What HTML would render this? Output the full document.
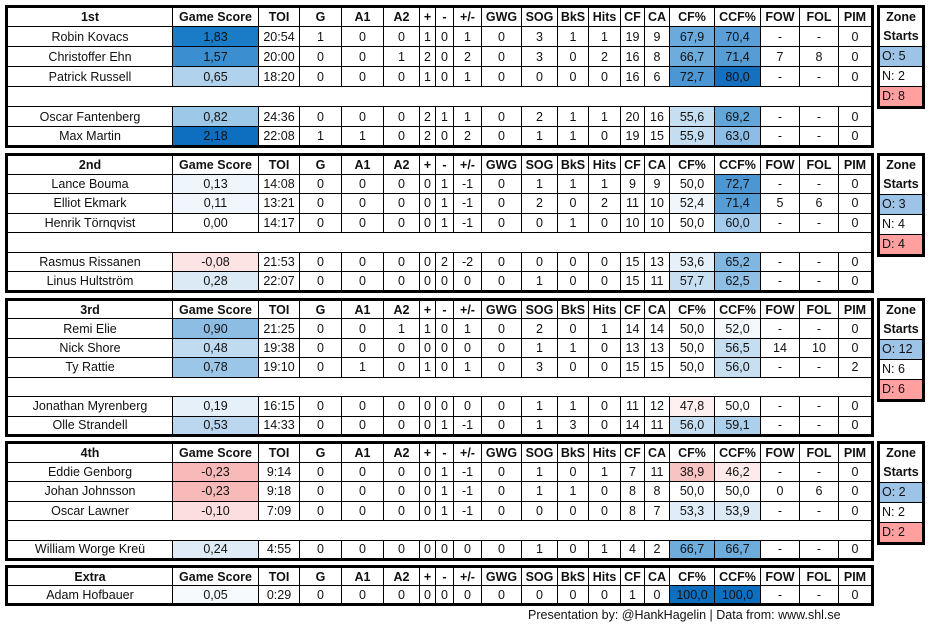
<!DOCTYPE html>
<html><head><meta charset="utf-8">
<style>
body{margin:0;width:929px;height:629px;background:#fff;position:relative;font-family:"Liberation Sans",sans-serif;font-size:12.5px;color:#111;overflow:hidden}
table{position:absolute;left:5px;width:868px;border-collapse:collapse;table-layout:fixed;border:3px solid #000}
td{border:1px solid #000;text-align:center;padding:0;white-space:nowrap;overflow:hidden;line-height:14px}
tr{height:18px}
tr.b td{height:17px}
tr.h td{font-weight:bold}
.z{position:absolute;left:877px;width:48px;border:3px solid #000;box-sizing:border-box}
.z div{border-top:1px solid #000;height:19px;line-height:19px;font-size:12.5px;padding-left:2px}
.z div.t{border-top:none;text-align:center;font-weight:bold;padding:0}
.o{background:#9dc3e6}.d{background:#ff9f9f}
.foot{position:absolute;left:528px;top:608px;font-size:12.5px}
</style></head><body>

<table style="top:5px;height:143px">
<colgroup><col style="width:166px"><col style="width:86px"><col style="width:41px"><col style="width:42px"><col style="width:42px"><col style="width:36px"><col style="width:16px"><col style="width:18px"><col style="width:28px"><col style="width:40px"><col style="width:36px"><col style="width:31px"><col style="width:32px"><col style="width:24px"><col style="width:25px"><col style="width:45px"><col style="width:46px"><col style="width:39px"><col style="width:39px"><col style="width:34px"></colgroup>
<tr class="h"><td>1st</td><td>Game Score</td><td>TOI</td><td>G</td><td>A1</td><td>A2</td><td>+</td><td>-</td><td>+/-</td><td>GWG</td><td>SOG</td><td>BkS</td><td>Hits</td><td>CF</td><td>CA</td><td>CF%</td><td>CCF%</td><td>FOW</td><td>FOL</td><td>PIM</td></tr>
<tr><td>Robin Kovacs</td><td style="background:#1a7cc6">1,83</td><td>20:54</td><td>1</td><td>0</td><td>0</td><td>1</td><td>0</td><td>1</td><td>0</td><td>3</td><td>1</td><td>1</td><td>19</td><td>9</td><td style="background:#6aaadc">67,9</td><td style="background:#5a9fd8">70,4</td><td>-</td><td>-</td><td>0</td></tr>
<tr><td>Christoffer Ehn</td><td style="background:#3b8fd0">1,57</td><td>20:00</td><td>0</td><td>0</td><td>1</td><td>2</td><td>0</td><td>2</td><td>0</td><td>3</td><td>0</td><td>2</td><td>16</td><td>8</td><td style="background:#6eacdc">66,7</td><td style="background:#569dd6">71,4</td><td>7</td><td>8</td><td>0</td></tr>
<tr><td>Patrick Russell</td><td style="background:#b0d2ec">0,65</td><td>18:20</td><td>0</td><td>0</td><td>0</td><td>1</td><td>0</td><td>1</td><td>0</td><td>0</td><td>0</td><td>0</td><td>16</td><td>6</td><td style="background:#4c96d3">72,7</td><td style="background:#1570c0">80,0</td><td>-</td><td>-</td><td>0</td></tr>
<tr class="b"><td colspan="20">&nbsp;</td></tr>
<tr><td>Oscar Fantenberg</td><td style="background:#9ec8e8">0,82</td><td>24:36</td><td>0</td><td>0</td><td>0</td><td>2</td><td>1</td><td>1</td><td>0</td><td>2</td><td>1</td><td>1</td><td>20</td><td>16</td><td style="background:#c6def2">55,6</td><td style="background:#62a6da">69,2</td><td>-</td><td>-</td><td>0</td></tr>
<tr><td>Max Martin</td><td style="background:#0e6fc0">2,18</td><td>22:08</td><td>1</td><td>1</td><td>0</td><td>2</td><td>0</td><td>2</td><td>0</td><td>1</td><td>1</td><td>0</td><td>19</td><td>15</td><td style="background:#c4ddf1">55,9</td><td style="background:#8cbde6">63,0</td><td>-</td><td>-</td><td>0</td></tr>
</table>
<div class="z" style="top:5px"><div class="t">Zone</div><div class="t">Starts</div><div class="o">O: 5</div><div>N: 2</div><div class="d">D: 8</div></div>

<table style="top:153px;height:140px">
<colgroup><col style="width:166px"><col style="width:86px"><col style="width:41px"><col style="width:42px"><col style="width:42px"><col style="width:36px"><col style="width:16px"><col style="width:18px"><col style="width:28px"><col style="width:40px"><col style="width:36px"><col style="width:31px"><col style="width:32px"><col style="width:24px"><col style="width:25px"><col style="width:45px"><col style="width:46px"><col style="width:39px"><col style="width:39px"><col style="width:34px"></colgroup>
<tr class="h"><td>2nd</td><td>Game Score</td><td>TOI</td><td>G</td><td>A1</td><td>A2</td><td>+</td><td>-</td><td>+/-</td><td>GWG</td><td>SOG</td><td>BkS</td><td>Hits</td><td>CF</td><td>CA</td><td>CF%</td><td>CCF%</td><td>FOW</td><td>FOL</td><td>PIM</td></tr>
<tr><td>Lance Bouma</td><td style="background:#eef5fb">0,13</td><td>14:08</td><td>0</td><td>0</td><td>0</td><td>0</td><td>1</td><td>-1</td><td>0</td><td>1</td><td>1</td><td>1</td><td>9</td><td>9</td><td>50,0</td><td style="background:#4c96d3">72,7</td><td>-</td><td>-</td><td>0</td></tr>
<tr><td>Elliot Ekmark</td><td style="background:#f0f6fb">0,11</td><td>13:21</td><td>0</td><td>0</td><td>0</td><td>0</td><td>1</td><td>-1</td><td>0</td><td>2</td><td>0</td><td>2</td><td>11</td><td>10</td><td style="background:#f0f6fc">52,4</td><td style="background:#569dd6">71,4</td><td>5</td><td>6</td><td>0</td></tr>
<tr><td>Henrik Törnqvist</td><td>0,00</td><td>14:17</td><td>0</td><td>0</td><td>0</td><td>0</td><td>1</td><td>-1</td><td>0</td><td>0</td><td>1</td><td>0</td><td>10</td><td>10</td><td>50,0</td><td style="background:#a4cbeb">60,0</td><td>-</td><td>-</td><td>0</td></tr>
<tr class="b"><td colspan="20">&nbsp;</td></tr>
<tr><td>Rasmus Rissanen</td><td style="background:#fde4e4">-0,08</td><td>21:53</td><td>0</td><td>0</td><td>0</td><td>0</td><td>2</td><td>-2</td><td>0</td><td>0</td><td>0</td><td>0</td><td>15</td><td>13</td><td style="background:#e6f0f9">53,6</td><td style="background:#80b6e2">65,2</td><td>-</td><td>-</td><td>0</td></tr>
<tr><td>Linus Hultström</td><td style="background:#dceaf6">0,28</td><td>22:07</td><td>0</td><td>0</td><td>0</td><td>0</td><td>0</td><td>0</td><td>0</td><td>1</td><td>0</td><td>0</td><td>15</td><td>11</td><td style="background:#c8dff2">57,7</td><td style="background:#90bfe6">62,5</td><td>-</td><td>-</td><td>0</td></tr>
</table>
<div class="z" style="top:153px"><div class="t">Zone</div><div class="t">Starts</div><div class="o">O: 3</div><div>N: 4</div><div class="d">D: 4</div></div>

<table style="top:298px;height:139px">
<colgroup><col style="width:166px"><col style="width:86px"><col style="width:41px"><col style="width:42px"><col style="width:42px"><col style="width:36px"><col style="width:16px"><col style="width:18px"><col style="width:28px"><col style="width:40px"><col style="width:36px"><col style="width:31px"><col style="width:32px"><col style="width:24px"><col style="width:25px"><col style="width:45px"><col style="width:46px"><col style="width:39px"><col style="width:39px"><col style="width:34px"></colgroup>
<tr class="h"><td>3rd</td><td>Game Score</td><td>TOI</td><td>G</td><td>A1</td><td>A2</td><td>+</td><td>-</td><td>+/-</td><td>GWG</td><td>SOG</td><td>BkS</td><td>Hits</td><td>CF</td><td>CA</td><td>CF%</td><td>CCF%</td><td>FOW</td><td>FOL</td><td>PIM</td></tr>
<tr><td>Remi Elie</td><td style="background:#8ebde4">0,90</td><td>21:25</td><td>0</td><td>0</td><td>1</td><td>1</td><td>0</td><td>1</td><td>0</td><td>2</td><td>0</td><td>1</td><td>14</td><td>14</td><td>50,0</td><td style="background:#f4f8fc">52,0</td><td>-</td><td>-</td><td>0</td></tr>
<tr><td>Nick Shore</td><td style="background:#c0dbf0">0,48</td><td>19:38</td><td>0</td><td>0</td><td>0</td><td>0</td><td>0</td><td>0</td><td>0</td><td>1</td><td>1</td><td>0</td><td>13</td><td>13</td><td>50,0</td><td style="background:#c4ddf1">56,5</td><td>14</td><td>10</td><td>0</td></tr>
<tr><td>Ty Rattie</td><td style="background:#9cc6e8">0,78</td><td>19:10</td><td>0</td><td>1</td><td>0</td><td>1</td><td>0</td><td>1</td><td>0</td><td>3</td><td>0</td><td>0</td><td>15</td><td>15</td><td>50,0</td><td style="background:#c8dff2">56,0</td><td>-</td><td>-</td><td>2</td></tr>
<tr class="b"><td colspan="20">&nbsp;</td></tr>
<tr><td>Jonathan Myrenberg</td><td style="background:#e6f0f9">0,19</td><td>16:15</td><td>0</td><td>0</td><td>0</td><td>0</td><td>0</td><td>0</td><td>0</td><td>1</td><td>1</td><td>0</td><td>11</td><td>12</td><td style="background:#fef0f0">47,8</td><td>50,0</td><td>-</td><td>-</td><td>0</td></tr>
<tr><td>Olle Strandell</td><td style="background:#bad7ef">0,53</td><td>14:33</td><td>0</td><td>0</td><td>0</td><td>0</td><td>1</td><td>-1</td><td>0</td><td>1</td><td>3</td><td>0</td><td>14</td><td>11</td><td style="background:#c6def2">56,0</td><td style="background:#acd0ec">59,1</td><td>-</td><td>-</td><td>0</td></tr>
</table>
<div class="z" style="top:298px"><div class="t">Zone</div><div class="t">Starts</div><div class="o">O: 12</div><div>N: 6</div><div class="d">D: 6</div></div>

<table style="top:441px;height:120px">
<colgroup><col style="width:166px"><col style="width:86px"><col style="width:41px"><col style="width:42px"><col style="width:42px"><col style="width:36px"><col style="width:16px"><col style="width:18px"><col style="width:28px"><col style="width:40px"><col style="width:36px"><col style="width:31px"><col style="width:32px"><col style="width:24px"><col style="width:25px"><col style="width:45px"><col style="width:46px"><col style="width:39px"><col style="width:39px"><col style="width:34px"></colgroup>
<tr class="h"><td>4th</td><td>Game Score</td><td>TOI</td><td>G</td><td>A1</td><td>A2</td><td>+</td><td>-</td><td>+/-</td><td>GWG</td><td>SOG</td><td>BkS</td><td>Hits</td><td>CF</td><td>CA</td><td>CF%</td><td>CCF%</td><td>FOW</td><td>FOL</td><td>PIM</td></tr>
<tr><td>Eddie Genborg</td><td style="background:#f8b9b9">-0,23</td><td>9:14</td><td>0</td><td>0</td><td>0</td><td>0</td><td>1</td><td>-1</td><td>0</td><td>1</td><td>0</td><td>1</td><td>7</td><td>11</td><td style="background:#f8c3c3">38,9</td><td style="background:#fdeaea">46,2</td><td>-</td><td>-</td><td>0</td></tr>
<tr><td>Johan Johnsson</td><td style="background:#f8b9b9">-0,23</td><td>9:18</td><td>0</td><td>0</td><td>0</td><td>0</td><td>1</td><td>-1</td><td>0</td><td>1</td><td>1</td><td>0</td><td>8</td><td>8</td><td>50,0</td><td>50,0</td><td>0</td><td>6</td><td>0</td></tr>
<tr><td>Oscar Lawner</td><td style="background:#fcdede">-0,10</td><td>7:09</td><td>0</td><td>0</td><td>0</td><td>0</td><td>1</td><td>-1</td><td>0</td><td>0</td><td>0</td><td>0</td><td>8</td><td>7</td><td style="background:#e0edf8">53,3</td><td style="background:#dceaf6">53,9</td><td>-</td><td>-</td><td>0</td></tr>
<tr class="b"><td colspan="20">&nbsp;</td></tr>
<tr><td>William Worge Kreü</td><td style="background:#dfecf7">0,24</td><td>4:55</td><td>0</td><td>0</td><td>0</td><td>0</td><td>0</td><td>0</td><td>0</td><td>1</td><td>0</td><td>1</td><td>4</td><td>2</td><td style="background:#6eacdc">66,7</td><td style="background:#6eacdc">66,7</td><td>-</td><td>-</td><td>0</td></tr>
</table>
<div class="z" style="top:441px"><div class="t">Zone</div><div class="t">Starts</div><div class="o">O: 2</div><div>N: 2</div><div class="d">D: 2</div></div>

<table style="top:565px;height:41px">
<colgroup><col style="width:166px"><col style="width:86px"><col style="width:41px"><col style="width:42px"><col style="width:42px"><col style="width:36px"><col style="width:16px"><col style="width:18px"><col style="width:28px"><col style="width:40px"><col style="width:36px"><col style="width:31px"><col style="width:32px"><col style="width:24px"><col style="width:25px"><col style="width:45px"><col style="width:46px"><col style="width:39px"><col style="width:39px"><col style="width:34px"></colgroup>
<tr class="h"><td>Extra</td><td>Game Score</td><td>TOI</td><td>G</td><td>A1</td><td>A2</td><td>+</td><td>-</td><td>+/-</td><td>GWG</td><td>SOG</td><td>BkS</td><td>Hits</td><td>CF</td><td>CA</td><td>CF%</td><td>CCF%</td><td>FOW</td><td>FOL</td><td>PIM</td></tr>
<tr><td>Adam Hofbauer</td><td style="background:#f6fafd">0,05</td><td>0:29</td><td>0</td><td>0</td><td>0</td><td>0</td><td>0</td><td>0</td><td>0</td><td>0</td><td>0</td><td>0</td><td>1</td><td>0</td><td style="background:#0e6fc0">100,0</td><td style="background:#0e6fc0">100,0</td><td>-</td><td>-</td><td>0</td></tr>
</table>

<div class="foot">Presentation by: @HankHagelin | Data from: www.shl.se</div>
</body></html>
